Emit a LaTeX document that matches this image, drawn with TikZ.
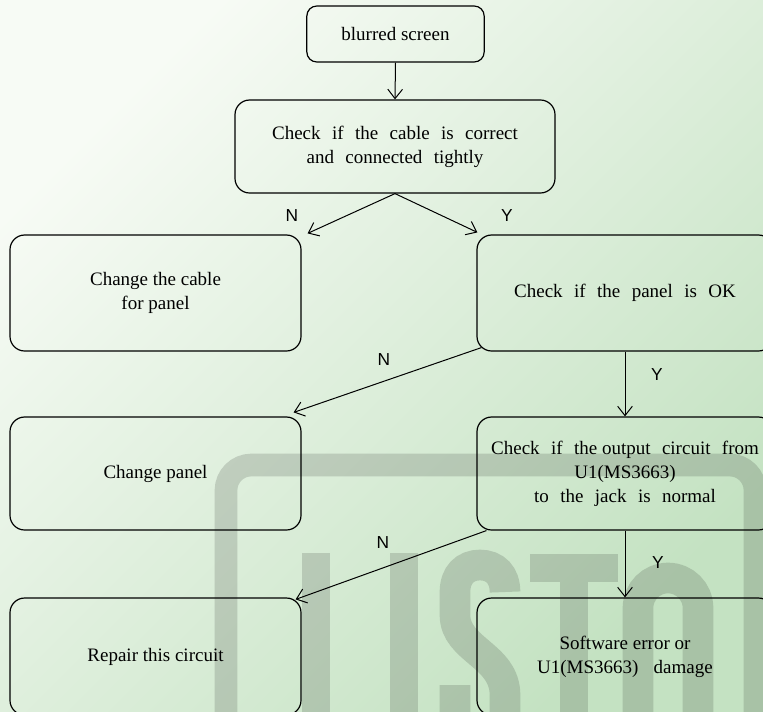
\documentclass[tikz,border=0pt]{standalone}
\usepackage{fontspec}
\setmainfont{Liberation Serif}
\setsansfont{Liberation Sans}
\usetikzlibrary{arrows.meta}
\definecolor{bglight}{RGB}{247,251,245}
\definecolor{bggreen}{RGB}{196,226,194}
\newcommand{\widesp}{\spaceskip=.6em\relax}

\begin{document}
\begin{tikzpicture}[x=0.75pt,y=-0.75pt]

        \useasboundingbox (0,0) rectangle (763,711);
        \shade[top color=bglight, bottom color=bggreen, shading angle=45] (0,0) rectangle (763,711);

        % watermark
        \begin{scope}[black, opacity=.14, line width=21pt]
          \draw[line width=17pt, rounded corners=19pt] (226,800) -- (226,465) -- (755,465) -- (755,800);
          \draw (316,553) -- (316,800);
          \draw (404,553) -- (404,800);
          \draw[line width=23pt] (505,592) .. controls (505,575) and (495,565) .. (480,565)
                .. controls (465,565) and (455,575) .. (455,592) -- (455,615)
                .. controls (455,650) and (505,655) .. (505,695) -- (505,720)
                .. controls (505,740) and (495,750) .. (480,750)
                .. controls (465,750) and (455,740) .. (455,720) -- (455,685);
          \draw (530,568) -- (618,568);
          \draw (574,582) -- (574,800);
          \draw[line width=23pt, rounded corners=22.5pt] (638,800) -- (638,578) -- (698,578) -- (698,800);
        \end{scope}

        \begin{scope}[every node/.style={draw, rounded corners=11pt, line width=.9pt, inner sep=0pt,
            align=center, font=\fontsize{14.25}{18}\selectfont}]
          \node[minimum width=133pt, minimum height=42pt, rounded corners=7.5pt] (1) at (395.5,34) {blurred screen};
          \node[minimum width=240pt, minimum height=69.75pt] (2) at (395,146.5)
            {\widesp Check if the cable is correct\\\widesp and connected tightly};
          \node[minimum width=218.25pt, minimum height=87pt] (3) at (155.5,293) {Change the cable\\for panel};
          \node[minimum width=222pt, minimum height=87pt] (4) at (625,293) {\widesp Check if the panel is OK};
          \node[minimum width=218.25pt, minimum height=84.75pt] (5) at (155.5,473.5) {Change panel};
          \node[minimum width=222pt, minimum height=84.75pt] (6) at (625,473.5)
            {\widesp Check if the\hspace{.25em}output circuit from\\U1(MS3663)\\\widesp to the jack is normal};
          \node[minimum width=218.25pt, minimum height=87.75pt] (7) at (155.5,656.5) {Repair this circuit};
          \node[minimum width=222pt, minimum height=87.75pt] (8) at (625,656.5)
            {Software error or\\U1(MS3663)\hspace{.8em}damage};
        \end{scope}

        \begin{scope}[every node/.style={font=\sffamily\fontsize{13}{15}\selectfont}]
          \node (n1) at (292,216) {N};
          \node (y1) at (507,216) {Y};
          \node (n2) at (384,360) {N};
          \node (y2) at (657,375) {Y};
          \node (n3) at (383,543) {N};
          \node (y3) at (658,563) {Y};
        \end{scope}

        \begin{scope}[every edge/.style={draw, line width=.75pt, -{Straight Barb[length=7pt,width=11pt]}}]
          \path (1.south) edge (2.north);
          \path (2.south) edge ([shift={(6,-1)}]3.north east);
          \path (2.south) edge ([shift={(1,-2)}]4.north west);
          \path ([shift={(5,-4)}]4.south west) edge ([shift={(-8,-4)}]5.north east);
          \path (4.south) edge (6.north);
          \path ([shift={(10,0)}]6.south west) edge ([shift={(-6,2)}]7.north east);
          \path (6.south) edge (8.north);
        \end{scope}

      \end{tikzpicture}
\end{document}
